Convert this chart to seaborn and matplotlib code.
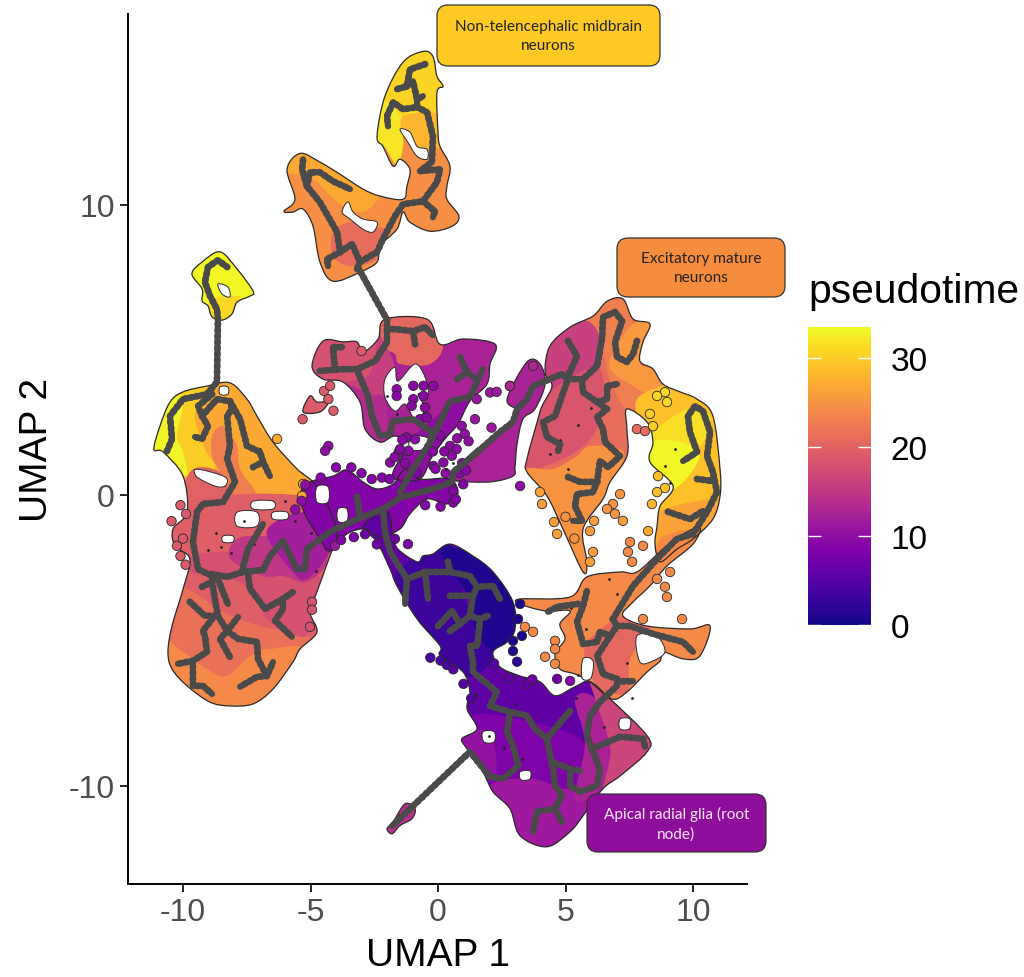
import pandas as pd
import seaborn as sns
import matplotlib
matplotlib.use('Agg')
import matplotlib.pyplot as plt
from matplotlib.cm import ScalarMappable
from matplotlib.colors import Normalize
from matplotlib.patches import PathPatch, FancyBboxPatch
from matplotlib.path import Path

# ---- cell territories on the UMAP (UMAP 1, UMAP 2)
tip_outline = [(-8.55, 8.37), (-9.25, 8.02), (-9.65, 7.61), (-9.25, 7.09), (-9.25, 6.68), (-9.02, 6.51), (-8.86, 6.13),
               (-8.47, 6.02), (-8.08, 6.23), (-7.88, 6.64), (-7.37, 6.85), (-7.25, 7.02), (-7.88, 7.78)]
tip_bands = [(33.3, tip_outline),
             (31, [(-8.86, 6.75), (-7.76, 6.85), (-7.88, 6.64), (-8.08, 6.0), (-8.47, 5.9), (-8.96, 6.13)])]
tip_holes = [[(-8.63, 7.26), (-8.24, 7.16), (-8.16, 6.82), (-8.47, 6.92)]]

left_outline = [(-8.16, 3.86), (-7.49, 3.30), (-7.10, 2.72), (-6.47, 1.82), (-5.53, 0.90), (-4.94, 0.48), (-4.43, -0.14),
                (-3.96, -1.34), (-4.24, -2.10), (-4.75, -3.34), (-5.02, -4.03), (-4.75, -4.72), (-5.41, -5.30),
                (-5.69, -5.75), (-6.47, -6.68), (-7.25, -7.19), (-8.16, -7.26), (-8.94, -7.13), (-9.84, -6.57),
                (-10.43, -5.99), (-10.59, -5.40), (-10.43, -4.51), (-10.0, -3.24), (-9.73, -2.20), (-10.31, -1.76),
                (-10.39, -1.17), (-9.84, -0.59), (-10.0, 0.65), (-10.78, 1.48), (-11.14, 1.58), (-10.90, 2.38),
                (-10.51, 3.20), (-10.0, 3.55), (-9.06, 3.75)]
left_bands = [(27, left_outline),
              (30, [(-10.90, 2.62), (-10.0, 3.65), (-9.06, 3.85), (-9.33, 3.30), (-9.53, 2.62), (-9.14, 1.58),
                    (-8.75, 0.89), (-9.73, 0.62), (-10.71, 1.41)]),
              (33, [(-11.3, 1.58), (-10.90, 2.51), (-10.39, 3.30), (-10.0, 3.41), (-10.04, 2.86), (-10.24, 2.03),
                    (-10.0, 1.48), (-9.84, 0.65), (-10.39, 1.00)]),
              (23, [(-8.86, 2.03), (-8.43, 2.37), (-7.88, 1.69), (-7.76, 0.89), (-7.10, -0.03), (-7.88, -0.24),
                    (-8.55, 0.79), (-8.86, 1.34)]),
              (20, [(-9.73, 0.79), (-8.55, 0.79), (-7.88, -0.24), (-5.92, -0.38), (-5.80, -0.83), (-9.84, -0.83)]),
              (19.5, [(-10.7, -0.6), (-4.4, -0.14), (-4.0, -2.2), (-5.0, -5.0), (-10.7, -5.0)]),
              (21.5, [(-10.9, -3.0), (-9.61, -3.34), (-8.43, -4.03), (-6.98, -4.51), (-5.0, -4.95), (-5.0, -6.2),
                      (-6.98, -6.6), (-10.9, -6.0)]),
              (24, [(-10.9, -4.95), (-10.0, -5.40), (-9.06, -5.99), (-8.27, -6.23), (-7.37, -5.54), (-6.59, -5.30),
                    (-5.0, -5.4), (-6.0, -7.6), (-8.0, -7.6), (-10.9, -6.5)]),
              (18, [(-9.73, -2.65), (-8.55, -2.79), (-7.37, -3.23), (-6.71, -4.27), (-5.53, -4.85), (-5.02, -4.61),
                    (-4.6, -2.89), (-6.08, -2.20), (-8.04, -1.96), (-9.61, -2.10)]),
              (15, [(-8.16, -2.20), (-6.86, -2.79), (-6.08, -2.79), (-5.14, -2.99), (-4.35, -2.30), (-4.75, -1.51),
                    (-6.71, -1.41), (-7.88, -1.51)]),
              (12, [(-6.71, -1.41), (-5.69, -2.65), (-5.14, -2.89), (-4.24, -1.96), (-3.96, -0.93), (-5.14, -0.59),
                    (-6.2, -0.83)])]

central_outline = [(-5.02, 0.45), (-4.12, 0.65), (-3.57, 0.86), (-2.94, 0.45), (-2.39, 0.21), (-1.76, 0.38), (-1.29, 0.89),
                   (-0.71, 0.55), (0.47, 0.55), (0.78, 0.03), (0.35, -0.31), (-0.43, -0.14), (-1.10, -0.65),
                   (-1.49, -1.17), (-2.27, -1.44), (-2.86, -1.17), (-3.57, -1.34), (-4.24, -1.93), (-4.63, -1.51),
                   (-5.22, -0.65), (-5.41, 0.03)]
central_bands = [(8.8, central_outline)]

mid_outline = [(-2.08, 6.05), (-0.43, 6.05), (0.08, 5.19), (0.98, 5.37), (2.24, 5.19), (2.04, 4.51), (1.92, 3.82),
               (1.25, 3.23), (0.78, 2.44), (0.27, 1.93), (-0.24, 1.31), (-0.71, 0.55), (-1.69, 0.55), (-1.76, 0.79),
               (-1.49, 1.24), (-1.10, 1.75), (-1.69, 2.03), (-2.27, 1.82), (-2.86, 2.27), (-3.06, 3.20), (-3.73, 3.89),
               (-4.51, 3.99), (-4.94, 4.44), (-4.51, 5.30), (-3.73, 5.27), (-3.18, 5.27), (-2.94, 4.92), (-2.35, 5.37)]
mid_bands = [(12.5, mid_outline),
             (18, [(-5.1, 4.44), (-4.51, 5.50), (-3.18, 5.47), (-2.35, 5.50), (-2.67, 4.16), (-3.65, 3.82), (-4.63, 3.72)]),
             (20.5, [(-2.08, 6.25), (-0.43, 6.25), (0.2, 5.19), (-0.31, 4.51), (-1.49, 4.51), (-1.69, 4.85), (-2.2, 5.19)]),
             (16, [(-2.35, 5.37), (-2.08, 5.19), (-1.69, 4.34), (-2.08, 3.47), (-2.67, 3.30), (-3.65, 3.82), (-2.67, 4.16)]),
             (13.5, [(-3.65, 3.82), (-2.67, 3.47), (-2.08, 3.30), (-2.08, 1.73), (-2.96, 1.93), (-3.25, 3.13)]),
             (10, [(-2.27, 0.89), (-1.10, 1.93), (0.86, 3.30), (1.65, 3.30), (0.47, 1.75), (-0.71, 0.38), (-1.88, 0.38)])]
mid_holes = [[(-2.08, 3.99), (-1.69, 4.40), (-1.57, 3.92), (-0.90, 4.51), (-0.51, 4.06), (-0.39, 3.47), (-0.78, 3.47),
              (-0.51, 2.96), (-0.90, 2.61), (-1.29, 3.13), (-1.69, 2.89), (-2.08, 3.37)],
             [(-1.02, 2.03), (-0.31, 1.93), (-0.51, 1.58), (-1.10, 1.58)]]

arm_outline = [(0.47, 0.62), (1.37, 1.48), (2.43, 2.17), (3.10, 2.86), (2.71, 3.30), (3.49, 4.58), (4.0, 4.51), (4.20, 3.82),
               (3.80, 2.96), (3.33, 2.61), (3.10, 1.75), (3.02, 0.96), (2.94, 0.65), (2.04, 0.45), (0.75, 0.48)]
arm_bands = [(12.5, arm_outline)]

right_outline = [(7.25, 6.75), (7.65, 6.06), (8.31, 5.89), (8.04, 5.27), (7.92, 4.61), (8.43, 4.34), (8.82, 3.82), (9.49, 3.55),
                 (10.16, 3.30), (10.78, 2.72), (11.06, 0.89), (11.06, -0.03), (10.78, -0.83), (10.0, -1.51), (9.37, -1.86),
                 (8.71, -2.30), (8.51, -1.69), (8.59, -1.07), (8.71, -0.38), (9.22, 0.31), (8.31, 1.14), (8.43, 1.82),
                 (8.20, 2.51), (7.41, 2.96), (7.41, 2.27), (7.41, 1.34), (6.75, 0.45), (6.47, -0.14), (5.69, -1.17),
                 (5.84, -2.30), (5.69, -2.65), (4.90, -1.17), (4.27, -0.03), (3.49, 0.79), (3.49, 1.24), (3.92, 2.61),
                 (4.08, 3.06), (4.47, 3.75), (4.20, 4.23), (4.39, 5.13), (5.18, 5.78), (6.08, 6.16), (6.63, 6.67)]
right_bands = [(21, right_outline),
               (23, [(5.18, 5.98), (6.08, 6.36), (6.63, 6.87), (7.35, 6.95), (7.92, 4.61), (8.43, 3.30), (7.41, 2.96),
                     (6.75, 3.96), (6.35, 5.13), (5.57, 5.58)]),
               (25.5, [(7.65, 5.89), (8.41, 6.0), (7.92, 4.61), (8.43, 4.34), (8.92, 3.82), (8.31, 3.47), (7.53, 3.82),
                       (6.75, 4.34), (6.94, 5.03)]),
               (16, [(4.2, 5.13), (5.18, 5.88), (5.96, 5.95), (6.35, 5.20), (5.96, 3.47), (4.78, 2.96), (3.8, 2.61),
                     (4.3, 3.75), (4.0, 4.23)]),
               (18.5, [(4.78, 3.82), (6.35, 4.34), (6.35, 2.61), (5.57, 1.58), (3.80, 0.89), (3.39, 1.24), (3.9, 2.79)]),
               (25, [(4.51, 0.89), (5.45, 1.34), (5.96, 1.69), (7.14, 1.58), (7.25, 1.14), (6.63, 0.10), (5.69, -1.17),
                     (5.84, -2.75), (4.51, -0.93), (3.39, 0.79)]),
               (29, [(7.9, 3.4), (11.4, 3.4), (11.4, -2.6), (8.3, -2.6), (8.3, 1.14)]),
               (31.5, [(9.76, 2.96), (10.67, 2.72), (10.39, 1.82), (9.49, 1.24), (8.31, 1.93)]),
               (33.3, [(8.31, 1.82), (9.49, 1.82), (10.27, 1.34), (9.22, 0.21), (8.2, 1.14)]),
               (26.5, [(8.9, -0.48), (11.2, -0.14), (10.9, -0.93), (8.71, -2.30), (8.41, -1.17)]),
               (24, [(8.71, -1.51), (10.27, -1.17), (10.0, -1.79), (8.71, -2.58)])]

low_outline = [(-2.0, -0.58), (-1.76, -1.41), (-1.57, -1.86), (-0.82, -2.30), (-0.59, -2.10), (-0.20, -2.03), (0.47, -1.69),
               (1.37, -2.10), (2.16, -2.65), (2.94, -3.68), (3.02, -4.61), (2.71, -5.06), (2.16, -5.40), (2.43, -5.92),
               (3.22, -6.23), (4.0, -6.43), (4.59, -6.91), (5.37, -6.60), (5.96, -6.43), (6.75, -7.02), (8.20, -8.29),
               (8.20, -8.84), (7.14, -9.67), (6.47, -10.11), (5.69, -11.04), (5.18, -11.59), (4.27, -12.11), (3.22, -11.73),
               (2.82, -10.80), (2.16, -10.22), (1.76, -9.53), (1.14, -8.74), (0.94, -8.39), (1.53, -8.05), (1.14, -7.36),
               (1.25, -6.78), (0.98, -6.09), (0.08, -5.54), (0.08, -5.19), (-0.82, -4.27), (-1.61, -3.13), (-1.88, -2.55),
               (-2.39, -1.62), (-2.94, -1.07)]
low_bands = [(5.8, low_outline),
             (3, [(-1.49, -2.55), (-0.31, -1.76), (0.47, -1.59), (1.06, -3.58), (1.65, -4.95), (2.24, -5.50), (1.25, -6.26),
                  (0.0, -5.4), (-0.81, -4.27), (-1.59, -3.06)]),
             (1, [(0.08, -1.76), (1.37, -2.0), (2.26, -2.55), (3.04, -3.68), (3.12, -4.61), (2.24, -5.40), (1.45, -4.61),
                  (1.25, -3.58), (0.47, -2.55)]),
             (8.5, [(0.76, -8.05), (1.65, -7.54), (4.0, -7.88), (5.76, -8.57), (5.76, -10.11), (2.82, -10.80), (1.65, -9.45)]),
             (10.5, [(0.84, -8.22), (2.04, -8.22), (2.24, -9.76), (1.25, -9.25)]),
             (11.5, [(2.0, -10.11), (3.61, -9.76), (5.18, -10.11), (6.55, -9.43), (5.87, -11.5), (4.2, -12.4), (3.0, -12.0)]),
             (12.5, [(5.37, -7.02), (6.16, -7.02), (6.75, -8.74), (6.35, -10.11), (5.37, -10.46), (5.76, -8.57)]),
             (16.5, [(5.96, -6.30), (6.85, -6.92), (8.40, -8.19), (8.40, -8.94), (7.24, -9.77), (6.47, -10.21), (6.75, -8.74),
                     (6.16, -7.02)])]
low_holes = [[(3.22, -9.53), (3.61, -9.5), (3.6, -9.78), (3.25, -9.8)],
             [(1.76, -8.15), (2.2, -8.15), (2.2, -8.5), (1.8, -8.5)],
             [(7.14, -7.71), (7.53, -7.71), (7.5, -8.05), (7.14, -8.05)]]

fork_outline = [(3.22, -3.58), (5.18, -3.51), (5.84, -2.82), (7.14, -2.65), (7.80, -2.65), (8.82, -1.86), (9.49, -1.41), (10.27, -1.10),
                (10.0, -1.69), (8.98, -2.44), (8.31, -3.13), (7.65, -3.68), (7.25, -4.16), (8.20, -4.51), (9.88, -4.61),
                (10.67, -4.51), (10.27, -5.54), (9.61, -5.64), (8.82, -5.40), (8.71, -5.71), (8.20, -6.09), (7.41, -6.78),
                (6.82, -7.02), (5.96, -6.43), (5.37, -6.16), (4.78, -5.99), (4.59, -5.47), (4.98, -4.95), (4.78, -4.44),
                (5.18, -3.99), (4.20, -3.99), (3.22, -3.75)]
fork_bands = [(24, fork_outline),
              (20.5, [(5.96, -4.95), (7.25, -4.16), (8.31, -4.51), (7.53, -5.64), (7.41, -6.78), (6.35, -6.67), (5.76, -5.64)])]
fork_holes = [[(7.80, -4.85), (8.59, -4.88), (8.90, -5.40), (8.43, -5.71), (7.92, -5.75)],
              [(5.69, -5.64), (6.08, -5.71), (6.0, -6.3), (5.65, -6.3)]]

upper_outline = [(-0.59, 15.27), (-0.20, 15.10), (-0.04, 14.41), (0.20, 14.07), (-0.04, 13.86), (0, 12.49), (0.08, 12.0), (0.47, 11.32),
                 (0.35, 10.63), (0.35, 10.18), (0.82, 9.60), (0.55, 9.25), (-0.31, 9.08), (-1.10, 9.39), (-1.37, 9.74),
                 (-1.61, 9.15), (-2.27, 8.57), (-2.39, 8.02), (-3.06, 7.67), (-4.12, 7.36), (-4.63, 8.02), (-4.90, 9.25),
                 (-5.29, 9.84), (-5.69, 9.74), (-6.04, 9.77), (-5.61, 10.18), (-5.92, 11.21), (-5.41, 11.76), (-4.63, 11.46),
                 (-3.84, 11.04), (-2.94, 10.53), (-2.27, 10.29), (-1.37, 10.18), (-1.22, 10.63), (-1.10, 11.21), (-1.49, 11.56),
                 (-1.76, 11.32), (-2.16, 12.0), (-2.39, 12.35), (-2.08, 13.73), (-1.37, 14.90)]
upper_bands = [(24.5, upper_outline),
               (30.5, [(-1.47, 15.0), (-0.59, 15.47), (-0.10, 15.30), (0.40, 14.07), (0.1, 13.86), (0.1, 12.76), (-0.71, 13.10),
                       (-1.49, 12.59), (-2.28, 13.11), (-2.28, 13.73)]),
               (32, [(-2.26, 13.62), (-1.37, 13.04), (-0.82, 13.52), (-0.98, 12.69), (-1.37, 12.59), (-1.37, 12.0), (-1.61, 11.35),
                     (-2.1, 12.0), (-2.59, 12.35)]),
               (28, [(-1.37, 13.04), (0.1, 13.11), (0.1, 12.42), (0.18, 12.0), (-0.71, 11.9), (-1.29, 12.25)]),
               (27, [(-6.1, 11.21), (-5.41, 11.96), (-4.63, 11.66), (-2.94, 10.63), (-2.27, 10.39), (-2.94, 9.74), (-3.96, 10.09),
                     (-4.90, 10.88)]),
               (21, [(-4.12, 9.05), (-3.45, 9.39), (-2.67, 9.25), (-2.0, 9.05), (-2.39, 8.12), (-3.45, 7.88), (-4.12, 8.22)])]
upper_holes = [[(-1.49, 12.59), (-1.10, 12.49), (-0.82, 12.0), (-0.43, 11.90), (-0.43, 11.56), (-0.82, 11.66), (-1.18, 12.14)],
               [(-3.76, 9.74), (-3.53, 10.09), (-3.33, 9.74), (-2.94, 9.50), (-2.39, 9.39), (-2.55, 9.05), (-2.94, 9.15), (-3.45, 9.50)]]

left_holes = [[(-9.45, 0.89), (-8.35, 0.62), (-8.35, 0.31), (-8.75, 0.31), (-9.45, 0.62)],
              [(-7.25, -0.21), (-6.47, -0.21), (-6.47, -0.48), (-7.25, -0.48)],
              [(-7.88, -0.59), (-7.1, -0.59), (-7.1, -1.07), (-7.88, -1.07)],
              [(-6.47, -0.59), (-5.92, -0.59), (-5.92, -0.83), (-6.47, -0.83)],
              [(-8.43, -1.41), (-8.04, -1.41), (-8.04, -1.62), (-8.43, -1.62)],
              [(-8.55, 3.72), (-8.24, 3.72), (-8.24, 3.47), (-8.55, 3.47)]]
central_holes = [[(-4.75, 0.28), (-4.31, 0.28), (-4.31, -0.24), (-4.75, -0.24)],
                 [(-3.92, -0.48), (-3.57, -0.48), (-3.57, -0.9), (-3.92, -0.9)]]

point_outline = [(-2.0, -11.49), (-1.76, -11.25), (-1.29, -10.63), (-0.90, -10.80), (-1.02, -11.14), (-1.49, -11.38), (-1.80, -11.66)]
islet_outline = [(-5.29, 2.86), (-5.02, 3.41), (-4.75, 3.20), (-4.31, 3.20), (-4.63, 2.86)]

clusters = [(left_outline, left_bands, left_holes),
            (central_outline, central_bands, central_holes),
            (mid_outline, mid_bands, mid_holes),
            (arm_outline, arm_bands, []),
            (low_outline, low_bands, low_holes),
            (fork_outline, fork_bands, fork_holes),
            (right_outline, right_bands, []),
            (upper_outline, upper_bands, upper_holes),
            (tip_outline, tip_bands, tip_holes),
            (point_outline, [(14, point_outline)], []),
            (islet_outline, [(19, islet_outline)], [])]

# ---- stray cells
stray_x = [-1.62, -0.97, -0.57, -0.18, -1.62, -0.97, -0.57, -1.03, -0.51, -0.71, -0.44, -1.23, -0.90, -1.55, -1.16, -1.88, 0.08, 0.47,
           0.73, 0.21, 0.54, 1.52, 1.45, 2.04, 2.30, 2.82, 2.10, 0.93, -1.49, -0.84, -0.18, 0.99, 0.60, -2.86, -4.30, -4.43,
           -4.47, -4.23, -4.30, -4.10, -5.31, -3.0, -6.31, -5.33, -5.29, -9.88, -10.24, -10.0, -4.94, -4.94, -5.02,
           -1.18, -1.69, -4.04, 3.22, 3.14, 3.29, 2.94, 2.94, 3.10, 4.67, 5.18,
           3.41, 3.73, 4.59, 4.59, 4.20, 4.59, 9.57, 8.98, 8.90, 8.04,
           8.43, 8.31, 8.63, 8.9, 8.59, 8.39, 8.24, 7.25, 6.12, 4.67, 4.55, 4.08, 4.0, 5.96, 6.08, 5.96,
           7.14, 6.86, 6.63, 6.94, 7.80, 8.12, 3.22, 8.90, 8.59, 8.98, 7.53, 7.45, 8.04, 7.61, 9.10, 8.59, 2.82, 3.73,
           -1.4, -1.7, -1.3, -0.1, 0.3, 0.85, 0.95, 1.1, -0.2, 0.25, 0.75, 1.05, 1.2, -4.6, -4.0, -3.4, -3.0, -2.6, -2.2, -1.9, -5.2, -5.35,
           -5.6, -2.4, -1.85, -3.3, -3.8, 0.6, 0.7, 0.1, -0.5,
           -0.3, 0.6, 1.0, 1.3, 2.8, 3.5, 2.2, 3.7, 0.1, 0.35, 5.0, 5.35, -10.1, -10.45, -9.9, -10.1]
stray_y = [3.64, 3.76, 3.76, 3.76, 3.41, 3.30, 3.41, 3.07, 3.01, 2.61, 2.67, 1.98, 1.92, 1.46, 1.52, 1.12, 2.04, 1.69,
           1.58, 1.12, 1.35, 3.30, 2.61, 3.53, 3.55, 3.76, 2.32, 2.38, 1.58, 0.77, 1.0, 0.37, -0.26, -1.35, 1.69, 1.52,
           3.58, 3.76, 3.30, 2.90, 2.61, 4.96, 1.93, -0.03, 0.38, -0.65, -1.75, -1.5, -3.68, -3.95, -4.54,
           -1.69, -1.51, -1.75, -3.75, -4.27, -4.85, -5.02, -5.37, -5.74, -6.33, -6.40,
           -4.54, -4.71, -5.02, -5.30, -5.57, -5.81, -4.27, -3.51, -3.16, -4.27,
           2.37, 2.79, 0.65, 0.24, 0.10, -0.31, -1.24, -0.89, -0.89, -1.34, -0.93, -0.31, 0.10, -1.24, -1.96, -2.30,
           0.03, -0.31, -0.48, -0.65, 2.27, 2.2, 0.31, 3.54, 3.41, 3.2, -1.62, -1.96, -1.75, -2.30, -2.65, -2.89, 3.75, 4.44,
           1.9, 1.3, 1.1, 0.9, 0.75, 0.75, 1.1, 0.85, 1.5, 1.5, 1.95, 2.1, 1.85, 0.6, 0.95, 0.95, 0.75, 0.55, 0.6, 0.55, 0.35, -0.2,
           -0.5, -1.7, -1.5, -1.45, -1.55, 0.15, -0.15, -0.4, -0.35,
           -5.6, -6.0, -6.5, -7.0, -6.3, -6.5, -5.8, -6.35, -5.7, -5.85, -0.75, -1.5, -0.35, -0.9, -2.4, -2.1]
stray_time = [9.5, 9.5, 9.5, 9.5, 9.5, 9.5, 9.5, 9.5, 9.5, 9.5, 9.5, 9.5, 9.5, 9.5, 9.5, 9.5, 9.5, 9.5,
              9.5, 9.5, 9.5, 11, 11, 11, 11, 13, 11, 10, 9.5, 9, 9, 9, 9, 7, 10, 10,
              19, 19, 19, 19, 19, 19, 27, 27, 27, 19, 19, 19, 18, 18, 18,
              8, 8, 11, 1, 1, 1, 1, 1, 2, 7, 9,
              24, 24, 24, 24, 24, 24, 24, 24, 24, 24,
              30, 30, 29, 29, 29, 28, 27, 26, 26, 26, 26, 26, 26, 26, 26, 26,
              25, 25, 25, 25, 21, 21, 10, 31, 31, 31, 24, 24, 24, 24, 24, 24, 13, 13,
              9.5, 9.5, 9.5, 9.5, 9.5, 9.5, 9.5, 9.5, 9.5, 9.5, 10, 10, 10, 9, 9, 9, 9, 9, 9, 9, 10, 10,
              10, 7, 7, 8, 9, 9, 9, 9, 9,
              4, 5, 5, 5, 6, 6, 5, 7, 4, 4, 25, 25, 19, 19, 19, 19]

# dark flecks between the cells
fleck_x = [-8.5, -8.7, -8.1, -7.6, -7.2, -9.0, -6.0, -5.6, -5.0, -4.8, -9.3, -7.0, -2.0, -1.6, 4.8, 5.1, 5.5, 6.0, 6.4, 4.4, 5.2, 5.8,
           6.7, 7.0, 7.4, 8.9, 9.1, 9.3, 5.5, 6.1, 6.5, 7.0, 5.4, 7.6, 1.5, 2.0, 2.6, 3.0, 3.3, 0.3, 0.6]
fleck_y = [-1.8, -1.3, -2.0, -0.9, -1.7, -1.9, -0.2, -0.9, -1.3, -2.6, 2.0, 1.6, 3.4, 2.8, 1.9, 0.9, 2.4, 3.0, 4.9, 1.4, -3.9, -4.6,
           -2.9, -3.4, -5.8, 1.0, 0.4, 1.6, -6.2, -7.5, -8.0, -8.4, -7.0, -7.0, -6.9, -8.3, -8.7, -7.2, -9.1, 0.9, 1.1]

# ---- principal graph branches
branch_tip = [(-8.27, 7.85), (-8.63, 8.08), (-9.02, 7.85), (-9.14, 7.33), (-8.94, 6.85), (-8.67, 6.40), (-8.63, 6.05), (-8.67, 3.89),
              (-9.06, 3.47), (-10.0, 3.30), (-10.51, 2.72), (-10.43, 1.93), (-10.63, 1.51)]
branch_lobe_a = [(-8.86, 3.47), (-9.41, 3.06), (-9.25, 2.72), (-9.02, 2.37), (-9.25, 1.93), (-9.53, 2.0)]
branch_lobe_b = [(-9.25, 2.72), (-8.67, 3.30), (-8.16, 3.23), (-7.76, 2.61), (-7.49, 1.69), (-6.98, 1.48), (-6.86, 1.14), (-6.59, 0.65)]
branch_lobe_c = [(-7.25, 0.96), (-6.86, 1.14)]
branch_lobe_d = [(-8.16, 3.23), (-8.08, 2.96), (-8.27, 2.72), (-8.16, 1.69), (-8.27, 1.24), (-7.96, 0.45), (-8.43, -0.24), (-9.22, -0.31),
                 (-9.45, -0.58), (-9.61, -1.62), (-9.41, -2.55), (-8.86, -2.79)]
branch_main = [(-8.86, -2.72), (-8.27, -2.82), (-7.65, -2.65), (-6.86, -2.58), (-6.59, -2.10), (-6.08, -1.58), (-5.53, -2.55), (-5.22, -2.55),
               (-5.14, -1.86), (-4.24, -1.27), (-3.18, -0.83), (-2.16, -0.48), (-1.37, -0.03), (-1.22, -0.03), (-0.20, 0.21), (0.55, 0.45),
               (0.59, 0.79), (1.37, 1.34), (2.43, 2.17), (2.94, 2.51), (3.10, 2.96), (3.49, 3.30), (3.73, 3.75), (4.86, 4.16), (5.10, 3.99)]
branch_up = [(-1.49, 0.10), (-0.98, 0.89), (-0.31, 1.82), (0.20, 2.72), (0.47, 3.23), (1.25, 3.37), (1.76, 4.33)]
branch_up_a = [(1.37, 4.06), (1.14, 4.23), (0.86, 4.75)]
branch_up_b = [(1.14, 4.23), (0.75, 3.99)]
branch_mid = [(-0.31, 1.82), (-0.24, 2.17), (-0.98, 2.61), (-1.76, 2.55), (-1.88, 2.10), (-2.27, 2.03), (-2.59, 2.72), (-2.75, 3.41), (-3.14, 4.23)]
branch_mid_b = [(-4.63, 4.27), (-3.84, 4.33), (-3.18, 4.33), (-2.47, 4.61), (-2.0, 5.26), (-2.0, 6.05), (-2.08, 6.16), (-3.14, 7.84)]
branch_mid_c = [(-2.0, 5.71), (-1.69, 5.71), (-0.98, 5.64), (-0.51, 5.78), (-0.2, 5.5)]
branch_mid_d = [(-0.90, 5.19), (-0.98, 5.64)]
branch_mid_e = [(-4.04, 4.33), (-4.12, 5.09), (-3.76, 5.09)]
branch_big_a = [(-8.86, -2.79), (-8.86, -2.99), (-8.75, -3.58), (-8.63, -4.16), (-8.27, -4.68), (-7.84, -4.95), (-7.10, -5.06), (-7.06, -5.64),
                (-6.71, -6.23), (-6.47, -5.75)]
branch_big_b = [(-6.71, -6.23), (-7.10, -6.26), (-7.76, -6.60)]
branch_big_c = [(-9.25, -3.16), (-8.86, -2.99)]
branch_big_d = [(-8.63, -2.89), (-8.43, -3.34), (-8.24, -3.75)]
branch_big_e = [(-9.73, -3.68), (-9.14, -4.16), (-8.63, -4.16)]
branch_big_f = [(-8.86, -4.27), (-9.22, -4.68), (-9.14, -4.85), (-9.06, -5.40), (-9.61, -5.71), (-10.2, -5.81)]
branch_big_g = [(-9.61, -5.71), (-9.61, -6.23), (-9.61, -6.57), (-9.22, -6.57), (-8.86, -6.85)]
branch_big_h = [(-8.27, -4.68), (-8.55, -4.95), (-8.16, -5.58)]
branch_big_i = [(-8.27, -4.68), (-7.84, -4.20)]
branch_big_j = [(-7.45, -2.72), (-7.37, -3.23), (-6.78, -3.92), (-6.08, -3.58), (-5.69, -3.34)]
branch_big_k = [(-6.08, -3.58), (-6.08, -3.92), (-6.39, -4.33), (-5.73, -4.88)]
branch_big_l = [(-7.69, -2.62), (-7.45, -1.86), (-6.86, -1.0)]
branch_big_m = [(-3.18, -0.07), (-3.06, -0.72)]
branch_neck = [(-2.16, -0.48), (-2.08, -1.27), (-1.88, -1.96), (-1.22, -2.89), (-1.29, -3.75)]
branch_blob_a = [(-1.22, -2.89), (-0.51, -2.65), (0.47, -2.65), (1.25, -2.79), (1.53, -3.16), (1.37, -3.47)]
branch_blob_b = [(-0.51, -2.65), (-0.39, -3.58)]
branch_blob_c = [(0.39, -2.30), (0.47, -2.65)]
branch_blob_d = [(1.53, -3.16), (2.16, -3.13), (2.43, -3.58)]
branch_blob_e = [(0.47, -3.47), (1.37, -3.47), (1.25, -4.16), (1.65, -4.27), (1.96, -4.16)]
branch_down = [(1.65, -4.27), (1.57, -4.95), (1.53, -5.19), (1.25, -5.19), (1.37, -5.74), (1.37, -6.09), (2.31, -6.78), (2.04, -7.26), (2.82, -7.47),
               (3.49, -7.60), (3.80, -8.05), (4.27, -8.39), (4.51, -9.43), (4.59, -10.01), (4.86, -10.35), (4.59, -10.80), (3.88, -10.90), (3.73, -11.59)]
branch_down_a = [(4.59, -10.80), (4.86, -11.25)]
branch_down_b = [(0, -4.51), (0.55, -3.99), (0.86, -4.44), (1.25, -4.16)]
branch_down_c = [(0.47, -4.68), (0.86, -4.44)]
branch_down_d = [(4.27, -8.39), (5.18, -7.43)]
branch_tail = [(2.82, -7.53), (2.71, -8.15), (2.94, -8.63), (3.14, -9.32), (2.55, -9.77), (2.04, -9.70), (1.25, -8.84), (-1.80, -11.39)]
branch_loop = [(4.51, -9.20), (5.18, -9.43), (5.57, -9.49)]
branch_loop_b = [(5.18, -9.43), (5.18, -10.01), (5.57, -10.22), (6.24, -10.01), (6.35, -9.43), (6.04, -8.74), (5.84, -8.29), (5.96, -7.60),
                 (6.35, -7.12), (7.02, -6.57), (7.02, -6.33), (6.47, -6.16), (6.24, -5.54), (6.75, -4.85), (7.02, -4.51), (6.86, -4.27)]
branch_loop_c = [(7.02, -6.40), (7.65, -6.40)]
branch_loop_d = [(6.04, -8.74), (7.14, -8.32), (8.04, -8.39), (8.12, -8.67)]
branch_fork_a = [(6.75, -4.85), (6.35, -4.71), (6.24, -5.06), (5.69, -5.13), (5.45, -4.37), (5.69, -3.82), (5.84, -3.30)]
branch_fork_b = [(5.49, -3.75), (4.67, -3.85), (4.31, -4.02)]
branch_crescent = [(6.86, -4.27), (7.65, -3.13), (8.59, -2.20), (9.37, -1.51), (10.0, -1.34), (10.55, -0.58), (10.94, 0.10), (10.78, 0.79), (10.55, 1.34),
                   (10.67, 2.17), (10.39, 2.89), (10.08, 3.06), (9.80, 2.72), (9.88, 2.17), (10.16, 1.48), (9.61, 1.17)]
branch_crescent_b = [(10.16, 0.55), (10.78, 0.48)]
branch_crescent_c = [(9.02, -0.58), (9.88, -0.83), (10.39, -0.55)]
branch_fork_c = [(7.02, -4.51), (7.53, -4.51), (8.43, -4.78), (9.61, -5.06), (10.0, -5.40)]
branch_r1 = [(7.80, 5.30), (7.65, 4.85), (7.41, 4.58), (7.02, 4.75), (6.94, 5.26), (7.22, 5.99), (6.94, 6.30), (6.47, 6.12), (6.43, 5.37), (6.24, 4.44),
             (5.69, 3.99), (5.10, 3.99), (4.86, 3.41), (4.59, 2.72), (4.12, 2.51), (4.27, 2.0), (4.78, 1.75), (4.71, 1.51)]
branch_r2 = [(5.10, 5.30), (5.45, 4.78), (5.10, 4.09)]
branch_r3 = [(5.65, 3.92), (5.69, 3.54), (6.24, 3.20), (6.63, 3.30), (6.63, 3.75), (7.02, 3.82)]
branch_r4 = [(6.24, 3.20), (6.63, 2.96), (6.24, 2.68), (6.47, 2.27), (6.55, 1.82), (7.14, 1.34), (6.67, 0.96), (6.35, 1.17), (6.24, 0.45), (6.08, 0.10),
             (5.45, 0.03), (5.37, -0.38), (5.65, -0.89), (5.29, -0.89)]
branch_r5 = [(6.24, 0.45), (5.57, 0.45), (5.10, 0.62)]
branch_c1 = [(-0.51, 14.83), (-1.10, 14.65), (-1.22, 14.07), (-1.61, 13.97)]
branch_c2 = [(-1.22, 14.07), (-0.98, 14.24), (-0.82, 13.62), (-0.59, 13.73)]
branch_c3 = [(-0.82, 13.62), (-0.82, 13.35), (-1.37, 13.28), (-1.76, 13.52), (-2.0, 13.04), (-1.96, 12.69)]
branch_c4 = [(-0.82, 13.35), (-0.43, 13.18), (-0.20, 12.35), (-0.24, 11.46), (-0.71, 11.15), (0.08, 11.21), (-0.04, 10.77), (-0.59, 10.11), (-1.37, 10.01),
             (-1.69, 9.60), (-2.16, 8.81), (-2.39, 8.36), (-3.06, 8.02), (-3.37, 8.64), (-3.84, 8.36), (-4.35, 8.12), (-4.31, 7.88)]
branch_c5 = [(-3.06, 8.02), (-3.18, 7.77)]
branch_c6 = [(-0.59, 10.11), (-0.12, 9.77), (-0.20, 9.56)]
branch_c7 = [(-3.84, 8.36), (-3.96, 9.05), (-4.63, 10.08), (-5.14, 10.63), (-5.33, 11.21), (-5.29, 11.56)]
branch_c8 = [(-5.14, 10.63), (-5.02, 11.11), (-4.63, 11.11), (-4.12, 10.80), (-3.45, 10.53)]

branches = [branch_tip, branch_lobe_a, branch_lobe_b, branch_lobe_c, branch_lobe_d, branch_main, branch_up, branch_up_a, branch_up_b,
            branch_mid, branch_mid_b, branch_mid_c, branch_mid_d, branch_mid_e, branch_big_a, branch_big_b, branch_big_c, branch_big_d,
            branch_big_e, branch_big_f, branch_big_g, branch_big_h, branch_big_i, branch_big_j, branch_big_k, branch_big_l, branch_big_m,
            branch_neck, branch_blob_a, branch_blob_b, branch_blob_c, branch_blob_d, branch_blob_e, branch_down, branch_down_a,
            branch_down_b, branch_down_c, branch_down_d, branch_tail, branch_loop, branch_loop_b, branch_loop_c, branch_loop_d,
            branch_fork_a, branch_fork_b, branch_crescent, branch_crescent_b, branch_crescent_c, branch_fork_c, branch_r1, branch_r2,
            branch_r3, branch_r4, branch_r5, branch_c1, branch_c2, branch_c3, branch_c4, branch_c5, branch_c6, branch_c7, branch_c8]

axis_ticks_x = [-10, -5, 0, 5, 10]
axis_ticks_y = [-10, 0, 10]
legend_ticks = [0, 10, 20, 30]
max_pseudotime = 33.5


def rounded(vertices):
    # closed curve through the read-off vertices, so the territories are not angular
    n = len(vertices)
    codes = [Path.MOVETO]
    verts = [vertices[0]]
    for i in range(n):
        p0, p1, p2, p3 = (vertices[(i + k - 1) % n] for k in range(4))
        c1 = (p1[0] + (p2[0] - p0[0]) / 6, p1[1] + (p2[1] - p0[1]) / 6)
        c2 = (p2[0] - (p3[0] - p1[0]) / 6, p2[1] - (p3[1] - p1[1]) / 6)
        verts += [c1, c2, p2]
        codes += [Path.CURVE4] * 3
    return Path(verts, codes)


sns.set_theme(style='ticks')
plt.rcParams['font.family'] = 'Liberation Sans'
plt.rcParams['axes.unicode_minus'] = False
plt.rcParams['lines.solid_capstyle'] = 'round'
plt.rcParams['lines.solid_joinstyle'] = 'round'
plt.rcParams['lines.dash_capstyle'] = 'round'

fig = plt.figure(figsize=(10.24, 9.78), dpi=100)
ax = fig.add_axes([128 / 1024, 1 - 885 / 978, 619 / 1024, 870 / 978])

cmap = sns.color_palette('plasma', as_cmap=True)
norm = Normalize(0, max_pseudotime)

for outline, bands, holes in clusters:
    shape = PathPatch(rounded(outline), facecolor='none', edgecolor='none')
    ax.add_patch(shape)
    for value, vertices in bands:
        band = PathPatch(rounded(vertices), facecolor=cmap(norm(value)), edgecolor='none', zorder=2)
        ax.add_patch(band)
        band.set_clip_path(shape)
    ax.add_patch(PathPatch(rounded(outline), facecolor='none', edgecolor='#2a2a2a', linewidth=0.9, zorder=3))
    for hole in holes:
        ax.add_patch(PathPatch(rounded(hole), facecolor='white', edgecolor='#2a2a2a', linewidth=0.7, zorder=3))

sns.scatterplot(x=stray_x, y=stray_y, hue=stray_time, palette=cmap, hue_norm=norm, s=46, edgecolor='#2a2a2a',
                linewidth=0.6, legend=False, zorder=4, ax=ax)
sns.scatterplot(x=fleck_x, y=fleck_y, color='#222222', s=4, linewidth=0, legend=False, zorder=4, ax=ax)

paths = pd.DataFrame([(i, x, y) for i, b in enumerate(branches) for x, y in b], columns=['branch', 'x', 'y'])
sns.lineplot(data=paths, x='x', y='y', units='branch', estimator=None, sort=False, color='#4a4a4a', linewidth=4.4,
             zorder=5, ax=ax)
# slight beading along the graph
sns.lineplot(data=paths, x='x', y='y', units='branch', estimator=None, sort=False, color='#4a4a4a', linewidth=5.0,
             linestyle=(0, (0.01, 0.85)), zorder=5, ax=ax)

ax.set_xlim((128 - 438) / 25.5, (747 - 438) / 25.5)
ax.set_ylim((496 - 885) / 29.05, (496 - 15) / 29.05)
ax.set_xticks(axis_ticks_x)
ax.set_yticks(axis_ticks_y)
ax.set_xlabel('UMAP 1', fontsize=28, labelpad=7, color='black')
ax.set_ylabel('UMAP 2', fontsize=28, labelpad=10, color='black')
ax.tick_params(labelsize=23, labelcolor='#4d4d4d', color='black', length=6, width=1.2)
sns.despine(ax=ax)
for s in ['left', 'bottom']:
    ax.spines[s].set_linewidth(1.4)
    ax.spines[s].set_color('black')

# colour bar
cax = fig.add_axes([808 / 1024, 1 - 626 / 978, 63 / 1024, 298 / 978])
cb = fig.colorbar(ScalarMappable(norm=norm, cmap=cmap), cax=cax, ticks=legend_ticks)
cb.outline.set_visible(False)
cax.tick_params(labelsize=24, length=0, pad=14, labelcolor='black')
cax.hlines(legend_ticks, 0, 0.2, colors='white', linewidth=1)
cax.hlines(legend_ticks, 0.8, 1, colors='white', linewidth=1)

# callouts and legend title on a pixel overlay
over = fig.add_axes([0, 0, 1, 1], zorder=10)
over.set_xlim(0, 1024)
over.set_ylim(978, 0)
over.axis('off')
over.text(808, 292, 'pseudotime', fontsize=29.3, va='center', ha='left', color='black')

callouts = [(437, 6, 223, 61, '#fdc922', '#222222', 'Non-telencephalic midbrain\nneurons'),
            (617, 239, 168, 59, '#f68d3c', '#222222', 'Excitatory mature\nneurons'),
            (587, 795, 179, 58, '#8e0e9b', '#f6e6f6', 'Apical radial glia (root\nnode)')]
for bx, by, bw, bh, fill, ink, label in callouts:
    over.add_patch(FancyBboxPatch((bx, by), bw, bh, boxstyle='round,pad=0,rounding_size=11', facecolor=fill,
                                  edgecolor='#333333', linewidth=0.9))
    over.text(bx + bw / 2, by + bh / 2, label, ha='center', va='center', fontsize=11.1, color=ink, family='Lato', linespacing=1.45)

fig.savefig('out.png', dpi=100)
